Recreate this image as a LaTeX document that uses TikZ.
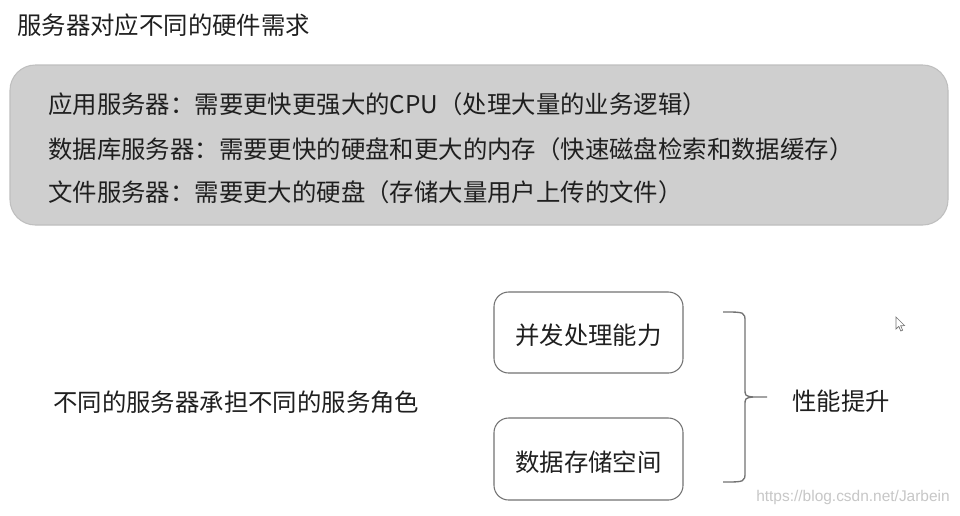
\documentclass[tikz,border=0pt]{standalone}
\usepackage{fontspec}
\setmainfont{Noto Sans CJK SC}
\newfontfamily\wmfont{Liberation Sans}
\begin{document}
\begin{tikzpicture}[x=0.75pt,y=-0.75pt,
  txt/.style={font=\fontsize{18.3}{22}\selectfont, text=black!88, inner sep=0pt},
  linetxt/.style={txt, anchor=west},
  rbox/.style={draw=black!55, line width=0.8pt, rounded corners=11pt, fill=white},
  panel/.style={draw=black!25, line width=0.8pt, fill=black!19, rounded corners=19pt},
  bracepath/.style={draw=black!55, line width=1pt}
]
\useasboundingbox (0,0) rectangle (960,515);
\fill[white] (0,0) rectangle (960,515);

\node[linetxt] (title) at (17,25) {服务器对应不同的硬件需求};

\draw[panel] (10,65) rectangle (948,225);
\node[linetxt] (l1) at (48,104) {应用服务器：需要更快更强大的CPU（处理大量的业务逻辑）};
\node[linetxt] (l2) at (48,149) {数据库服务器：需要更快的硬盘和更大的内存（快速磁盘检索和数据缓存）};
\node[linetxt] (l3) at (48,192) {文件服务器：需要更大的硬盘（存储大量用户上传的文件）};

\draw[rbox] (494,292) rectangle (683,373);
\node[txt] (b1) at (588.5,335) {并发处理能力};
\draw[rbox] (494,418) rectangle (683,500);
\node[txt] (b2) at (588.5,462) {数据存储空间};

\node[linetxt] (role) at (53,402) {不同的服务器承担不同的服务角色};
\node[linetxt] (perf) at (792,401) {性能提升};

\coordinate (btop) at (723,312);
\coordinate (bmid) at (767,397);
\coordinate (bbot) at (723,482);
\draw[bracepath] (btop) .. controls (745,312) .. (745,322) -- (745,388)
  .. controls (745,396) .. (753,397) -- (bmid);
\draw[bracepath] (bbot) .. controls (745,482) .. (745,472) -- (745,406)
  .. controls (745,398) .. (753,397);

\draw[black!55, fill=white, line width=0.5pt] (896,317) -- (896,329) -- (898.8,326.4) -- (900.8,331) -- (902.6,330.2) -- (900.7,325.8) -- (904.6,325.6) -- cycle;

\node[font=\wmfont\fontsize{11.6}{14}\selectfont, text=black!22, anchor=east, inner sep=0pt] (wm) at (950,497) {https://blog.csdn.net/Jarbein};
\end{tikzpicture}
\end{document}
